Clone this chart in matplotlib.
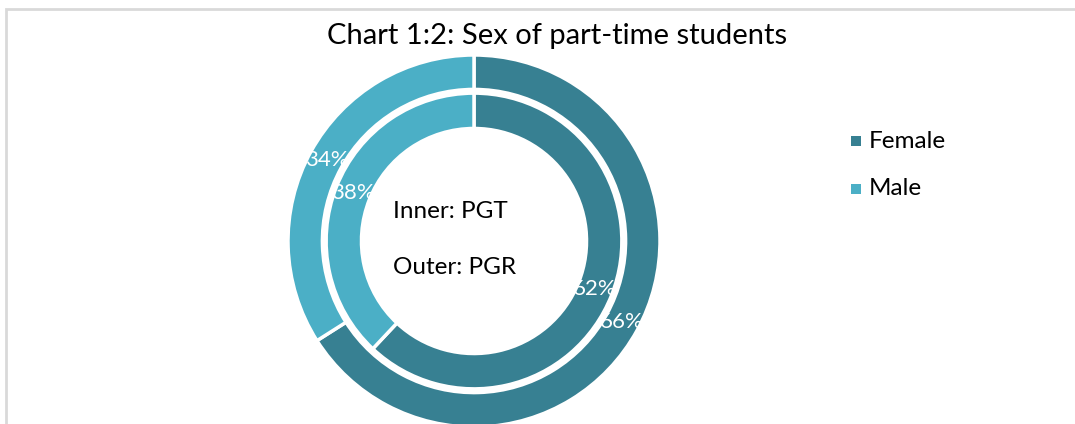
import matplotlib.pyplot as plt
from matplotlib.patches import Rectangle

plt.rcParams['font.family'] = ['Lato', 'DejaVu Sans']

categories = ["Female", "Male"]
pgr_share = [66, 34]   # outer ring
pgt_share = [62, 38]   # inner ring
colors = ["#378092", "#4BAFC6"]

W, H = 1075, 424
fig = plt.figure(figsize=(W / 100, H / 100), dpi=100)

# light grey chart frame (right and bottom run off the image)
fig.patches.append(Rectangle((6 / W, -0.1), 1.2, (H - 9) / H + 0.1, transform=fig.transFigure,
                             fill=False, edgecolor="#D9D9D9", linewidth=2))

cx, cy, R = 474, 241, 186
ax = fig.add_axes([(cx - R) / W, (H - cy - R) / H, 2 * R / W, 2 * R / H])

wp = dict(edgecolor="white", linewidth=2.5)
tp = dict(color="white", fontsize=16)

ax.pie(pgr_share, radius=1.0, colors=colors, startangle=90, counterclock=False,
       wedgeprops=dict(width=0.185, **wp), autopct="%.0f%%", pctdistance=0.905,
       textprops=tp)
ax.pie(pgt_share, radius=0.795, colors=colors, startangle=90, counterclock=False,
       wedgeprops=dict(width=0.19, **wp), autopct="%.0f%%", pctdistance=0.88,
       textprops=tp)
ax.set_xlim(-1, 1)
ax.set_ylim(-1, 1)
ax.set_aspect("equal")
ax.axis("off")

fig.text(557 / W, 1 - 36 / H, "Chart 1:2: Sex of part-time students", ha="center", va="center",
         fontsize=21, color="#000000")
fig.text(393 / W, 1 - 212 / H, "Inner: PGT", ha="left", va="center", fontsize=17.5)
fig.text(393 / W, 1 - 267 / H, "Outer: PGR", ha="left", va="center", fontsize=17.5)

# legend
for i, (lab, col) in enumerate(zip(categories, colors)):
    y = 1 - (141 + 48 * i) / H
    fig.patches.append(Rectangle((851 / W, y - 5 / H), 10 / W, 10 / H, transform=fig.transFigure,
                                 facecolor=col, edgecolor="none"))
    fig.text(869 / W, y, lab, ha="left", va="center", fontsize=17.5)

fig.savefig("out.png", dpi=100)
